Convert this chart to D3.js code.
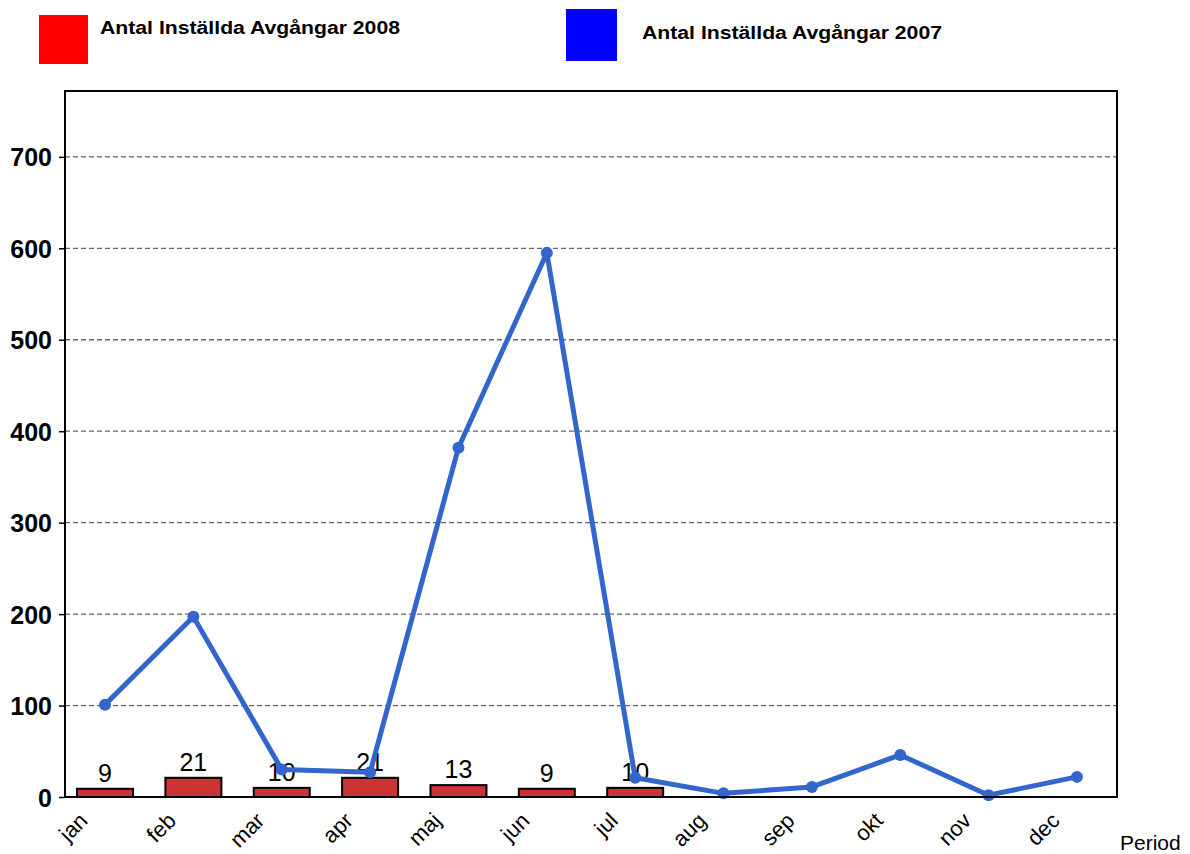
<!DOCTYPE html>
<html>
<head>
<meta charset="utf-8">
<script src="https://cdn.jsdelivr.net/npm/d3@7"></script>
<style>
  body { margin: 0; background: #fff; }
  text { font-family: Arial, "Liberation Sans", sans-serif; }
</style>
</head>
<body>
<svg id="chart" width="1190" height="854"></svg>
<script>
// monthly data
var months = ['jan','feb','mar','apr','maj','jun','jul','aug','sep','okt','nov','dec'];
var cancelled2008 = [9, 21, 10, 21, 13, 9, 10];
var cancelled2007 = [101, 197, 30, 27, 382, 595, 21, 4, 11, 46, 2, 22];
var yTicks = [0, 100, 200, 300, 400, 500, 600, 700];
var legendLabels = ['Antal Inställda Avgångar 2008', 'Antal Inställda Avgångar 2007'];

var plotLeft = 65, plotRight = 1117, plotTop = 91, plotBottom = 797;
var barWidth = 56;

var svg = d3.select("#chart");

var x = d3.scalePoint().domain(months).range([plotLeft, plotRight]).padding(0.453);
var y = d3.scaleLinear().domain([0, 772]).range([plotBottom, plotTop]);

// gridlines
svg.append("g").selectAll("line")
	.data(yTicks.filter(function(d){ return d > 0; }))
	.join("line")
	.attr("x1", plotLeft).attr("x2", plotRight)
	.attr("y1", function(d){ return y(d); })
	.attr("y2", function(d){ return y(d); })
	.attr("stroke", "#666")
	.attr("stroke-width", 1.3)
	.attr("stroke-dasharray", "5,3");

// y axis
var yAxis = svg.append("g")
	.attr("transform", "translate(" + plotLeft + ",0)")
	.call(d3.axisLeft(y).tickValues(yTicks).tickSize(6).tickPadding(7));
yAxis.select(".domain").remove();
yAxis.selectAll("line").attr("stroke", "#000").attr("stroke-width", 1.5);
yAxis.selectAll("text")
	.attr("font-size", 25).attr("font-weight", "bold").attr("fill", "#000")
	.attr("dy", "0.36em")
	.style("font-family", "Arial, 'Liberation Sans', sans-serif");

// bars for 2008
svg.append("g").selectAll("rect")
	.data(cancelled2008)
	.join("rect")
	.attr("x", function(d, i){ return x(months[i]) - barWidth/2; })
	.attr("y", function(d){ return y(d); })
	.attr("width", barWidth)
	.attr("height", function(d){ return y(0) - y(d); })
	.attr("fill", "#cc3333")
	.attr("stroke", "#000")
	.attr("stroke-width", 2);

svg.append("g").selectAll("text")
	.data(cancelled2008)
	.join("text")
	.attr("x", function(d, i){ return x(months[i]); })
	.attr("y", function(d){ return y(d) - 7; })
	.attr("text-anchor", "middle")
	.attr("font-size", 25)
	.text(function(d){ return d; });

// line for 2007
var line = d3.line()
	.x(function(d, i){ return x(months[i]); })
	.y(function(d){ return y(d); });

svg.append("path")
	.datum(cancelled2007)
	.attr("d", line)
	.attr("fill", "none")
	.attr("stroke", "#3366cc")
	.attr("stroke-width", 5)
	.attr("stroke-linejoin", "round");

svg.append("g").selectAll("circle")
	.data(cancelled2007)
	.join("circle")
	.attr("cx", function(d, i){ return x(months[i]); })
	.attr("cy", function(d){ return y(d); })
	.attr("r", 6)
	.attr("fill", "#3366cc");

// frame
svg.append("rect")
	.attr("x", plotLeft).attr("y", plotTop)
	.attr("width", plotRight - plotLeft).attr("height", plotBottom - plotTop)
	.attr("fill", "none")
	.attr("stroke", "#000")
	.attr("stroke-width", 2);

// x labels, rotated
svg.append("g").selectAll("text")
	.data(months)
	.join("text")
	.attr("transform", function(d){ return "translate(" + (x(d) - 16) + ",822) rotate(-45)"; })
	.attr("text-anchor", "end")
	.attr("font-size", 22)
	.text(function(d){ return d; });

svg.append("text")
	.attr("x", 1120).attr("y", 850)
	.attr("font-size", 21)
	.text("Period");

// legend
var legendPos = [{x: 39, y: 15, w: 49, h: 49, tx: 100, ty: 34, c: "#ff0000"},
                 {x: 566, y: 9, w: 51, h: 52, tx: 642, ty: 39, c: "#0000ff"}];
legendPos.forEach(function(p, i){
	svg.append("rect")
		.attr("x", p.x).attr("y", p.y).attr("width", p.w).attr("height", p.h)
		.attr("fill", p.c);
	svg.append("text")
		.attr("x", p.tx).attr("y", p.ty)
		.attr("font-size", 18).attr("font-weight", "bold")
		.attr("textLength", 300).attr("lengthAdjust", "spacingAndGlyphs")
		.text(legendLabels[i]);
});
</script>
</body>
</html>
